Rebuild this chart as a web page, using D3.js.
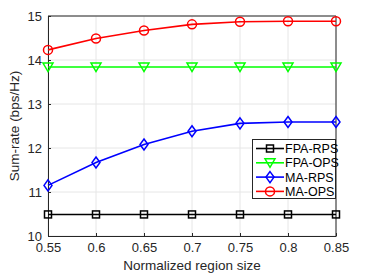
<!DOCTYPE html>
<html>
<head>
<meta charset="utf-8">
<script src="https://cdn.jsdelivr.net/npm/d3@7"></script>
<style>
  body { margin: 0; background: #fff; }
  text { font-family: "Liberation Sans", Arial, sans-serif; }
</style>
</head>
<body>
<div id="chart"></div>
<script>
// data
var regionSize = [0.55, 0.6, 0.65, 0.7, 0.75, 0.8, 0.85];
var fpaRps = [10.49, 10.49, 10.49, 10.49, 10.49, 10.49, 10.49];
var fpaOps = [13.84, 13.84, 13.84, 13.84, 13.84, 13.84, 13.84];
var maRps = [11.15, 11.67, 12.08, 12.38, 12.56, 12.59, 12.59];
var maOps = [14.23, 14.49, 14.67, 14.81, 14.87, 14.88, 14.88];
var xTicks = [0.55, 0.6, 0.65, 0.7, 0.75, 0.8, 0.85];
var yTicks = [10, 11, 12, 13, 14, 15];

var series = [
  { name: "FPA-RPS", values: fpaRps, color: "#000000", marker: "square" },
  { name: "FPA-OPS", values: fpaOps, color: "#00ff00", marker: "triangle" },
  { name: "MA-RPS", values: maRps, color: "#0000ff", marker: "diamond" },
  { name: "MA-OPS", values: maOps, color: "#ff0000", marker: "circle" }
];

function program() {
  var width = 371, height = 278;
  var margin = { top: 16, right: 35, bottom: 42, left: 48 };

  var svg = d3.select("#chart")
    .append("svg")
    .attr("width", width)
    .attr("height", height);

  var x = d3.scaleLinear().domain([0.55, 0.85]).range([margin.left, width - margin.right]);
  var y = d3.scaleLinear().domain([10, 15]).range([height - margin.bottom, margin.top]);

  // grid
  var grid = svg.append("g").attr("stroke", "#e6e6e6").attr("stroke-width", 1);
  grid.selectAll(".gx").data(xTicks).join("line")
    .attr("x1", d => x(d)).attr("x2", d => x(d))
    .attr("y1", y(10)).attr("y2", y(15));
  grid.selectAll(".gy").data(yTicks).join("line")
    .attr("x1", x(0.55)).attr("x2", x(0.85))
    .attr("y1", d => y(d)).attr("y2", d => y(d));

  // axes
  var xAxis = svg.append("g")
    .attr("transform", "translate(0," + y(10) + ")")
    .call(d3.axisBottom(x).tickValues(xTicks).tickFormat(d3.format("")).tickSizeInner(-3).tickSizeOuter(0).tickPadding(7));
  var yAxis = svg.append("g")
    .attr("transform", "translate(" + x(0.55) + ",0)")
    .call(d3.axisLeft(y).tickValues(yTicks).tickFormat(d3.format("d")).tickSizeInner(-3).tickSizeOuter(0).tickPadding(6));
  [xAxis, yAxis].forEach(function(a) {
    a.selectAll("path").attr("stroke", "#262626");
    a.selectAll("line").attr("stroke", "#262626");
    a.selectAll("text").attr("fill", "#262626").style("font-size", "13px")
      .style("font-family", "Liberation Sans, Arial, sans-serif");
  });
  // box top/right
  svg.append("path")
    .attr("d", "M" + x(0.55) + "," + y(15) + "H" + x(0.85) + "V" + y(10))
    .attr("fill", "none").attr("stroke", "#262626");

  svg.append("text")
    .attr("x", (x(0.55) + x(0.85)) / 2).attr("y", 270)
    .attr("text-anchor", "middle").attr("fill", "#262626")
    .style("font-size", "13.5px")
    .text("Normalized region size");
  svg.append("text")
    .attr("transform", "translate(19," + (y(12.5)) + ") rotate(-90)")
    .attr("text-anchor", "middle").attr("fill", "#262626")
    .style("font-size", "13.5px")
    .text("Sum-rate (bps/Hz)");

  var line = d3.line().x((d, i) => x(regionSize[i])).y(d => y(d));

  function drawMarker(g, type, color, cx, cy) {
    if (type === "square") {
      g.append("rect").attr("x", cx - 3.5).attr("y", cy - 3.5).attr("width", 7).attr("height", 7)
        .attr("fill", "none").attr("stroke", color).attr("stroke-width", 1.5);
    } else if (type === "triangle") {
      g.append("path").attr("d", "M" + (cx - 5) + "," + (cy - 4) + "L" + (cx + 5) + "," + (cy - 4) + "L" + cx + "," + (cy + 4.5) + "Z")
        .attr("fill", "none").attr("stroke", color).attr("stroke-width", 1.5);
    } else if (type === "diamond") {
      g.append("path").attr("d", "M" + cx + "," + (cy - 5.5) + "L" + (cx + 4) + "," + cy + "L" + cx + "," + (cy + 5.5) + "L" + (cx - 4) + "," + cy + "Z")
        .attr("fill", "none").attr("stroke", color).attr("stroke-width", 1.5);
    } else {
      g.append("circle").attr("cx", cx).attr("cy", cy).attr("r", 4.5)
        .attr("fill", "none").attr("stroke", color).attr("stroke-width", 1.5);
    }
  }

  series.forEach(function(s) {
    var g = svg.append("g");
    g.append("path").datum(s.values).attr("d", line)
      .attr("fill", "none").attr("stroke", s.color).attr("stroke-width", 1.6);
    s.values.forEach(function(v, i) {
      drawMarker(g, s.marker, s.color, x(regionSize[i]), y(v));
    });
  });

  // legend
  var lg = svg.append("g");
  lg.append("rect").attr("x", 252.5).attr("y", 139.5).attr("width", 83).attr("height", 59)
    .attr("fill", "#fff").attr("stroke", "#262626").attr("stroke-width", 1);
  series.forEach(function(s, i) {
    var ly = 148.5 + i * 14.3;
    lg.append("line").attr("x1", 256).attr("x2", 284).attr("y1", ly).attr("y2", ly)
      .attr("stroke", s.color).attr("stroke-width", 1.6);
    drawMarker(lg, s.marker, s.color, 270, ly);
    lg.append("text").attr("x", 285).attr("y", ly + 4.5)
      .attr("fill", "#000").style("font-size", "12.5px").text(s.name);
  });
}

program();
</script>
</body>
</html>
